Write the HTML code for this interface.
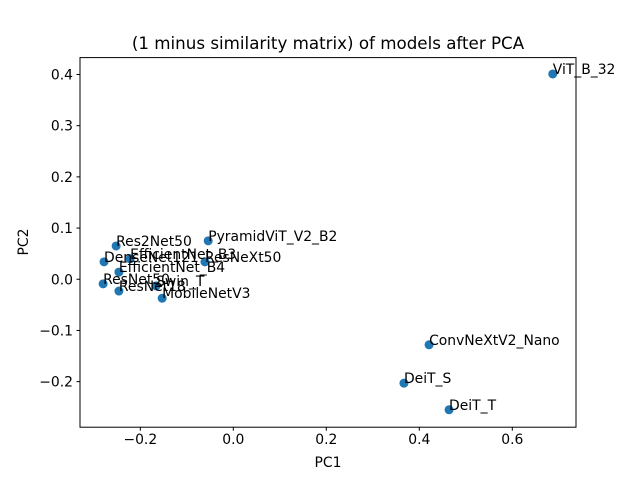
<!DOCTYPE html>
<html><head><meta charset="utf-8"><style>
body{margin:0;background:#fff}
svg text{font-family:"DejaVu Sans","Liberation Sans",sans-serif;fill:#000}
</style></head><body>
<svg id="chart" width="640" height="480" xmlns="http://www.w3.org/2000/svg">
<rect width="640" height="480" fill="#fff"/>
<text x="328" y="49" font-size="16.7" text-anchor="middle">(1 minus similarity matrix) of models after PCA</text>
<g id="ticks"></g>
<g id="points"></g>
<rect x="80" y="57.6" width="496" height="369.6" fill="none" stroke="#000" stroke-width="1"/>
<text x="328" y="467" font-size="13.9" text-anchor="middle">PC1</text>
<text x="0" y="0" font-size="13.9" text-anchor="middle" transform="translate(28,242) rotate(-90)">PC2</text>
</svg>
<script>
const models=["Res2Net50","PyramidViT_V2_B2","DenseNet121","EfficientNet_B3","ResNeXt50","EfficientNet_B4","ResNet50","ResNet18","Swin_T","MobileNetV3","ViT_B_32","ConvNeXtV2_Nano","DeiT_S","DeiT_T"];
const pc1=[-0.252,-0.054,-0.278,-0.222,-0.061,-0.246,-0.280,-0.246,-0.166,-0.153,0.687,0.421,0.367,0.464];
const pc2=[0.065,0.075,0.034,0.040,0.034,0.014,-0.009,-0.023,-0.013,-0.037,0.401,-0.128,-0.203,-0.255];
const xTicks=[-0.2,0.0,0.2,0.4,0.6];
const yTicks=[-0.2,-0.1,0.0,0.1,0.2,0.3,0.4];
const xMin=-0.3297,xMax=0.7370,yMin=-0.289,yMax=0.433;
const L=80,R=576,T=57.6,B=427.2;
const sx=v=>L+(v-xMin)/(xMax-xMin)*(R-L);
const sy=v=>B-(v-yMin)/(yMax-yMin)*(B-T);
const NS="http://www.w3.org/2000/svg";
const tg=document.getElementById('ticks'),pg=document.getElementById('points');
const fmt=v=>(v<0?"\u2212":"")+Math.abs(v).toFixed(1);
xTicks.forEach(v=>{
 const l=document.createElementNS(NS,'line');
 
 
 l.setAttribute('x1',sx(v));l.setAttribute('x2',sx(v));l.setAttribute('y1',B);l.setAttribute('y2',B+3.5);l.setAttribute('stroke','#000');tg.appendChild(l);
 const t=document.createElementNS(NS,'text');
 
 
 t.setAttribute('x',sx(v));t.setAttribute('y',B+17);t.setAttribute('font-size','13.9');t.setAttribute('text-anchor','middle');t.textContent=fmt(v);tg.appendChild(t);
});
yTicks.forEach(v=>{
 const l=document.createElementNS(NS,'line');
 
 
 l.setAttribute('x1',L-3.5);l.setAttribute('x2',L);l.setAttribute('y1',sy(v));l.setAttribute('y2',sy(v));l.setAttribute('stroke','#000');tg.appendChild(l);
 const t=document.createElementNS(NS,'text');
 
 
 t.setAttribute('x',L-7);t.setAttribute('y',sy(v)+5);t.setAttribute('font-size','13.9');t.setAttribute('text-anchor','end');t.textContent=fmt(v);tg.appendChild(t);
});
models.forEach((m,i)=>{
 const c=document.createElementNS(NS,'circle');
 
 
 c.setAttribute('cx',sx(pc1[i]));c.setAttribute('cy',sy(pc2[i]));c.setAttribute('r','4.5');c.setAttribute('fill','#1f77b4');pg.appendChild(c);
});
models.forEach((m,i)=>{
 const t=document.createElementNS(NS,'text');
 
 
 t.setAttribute('x',sx(pc1[i]));t.setAttribute('y',sy(pc2[i]));t.setAttribute('font-size','13.9');t.textContent=m;pg.appendChild(t);
});
</script>
</body></html>
